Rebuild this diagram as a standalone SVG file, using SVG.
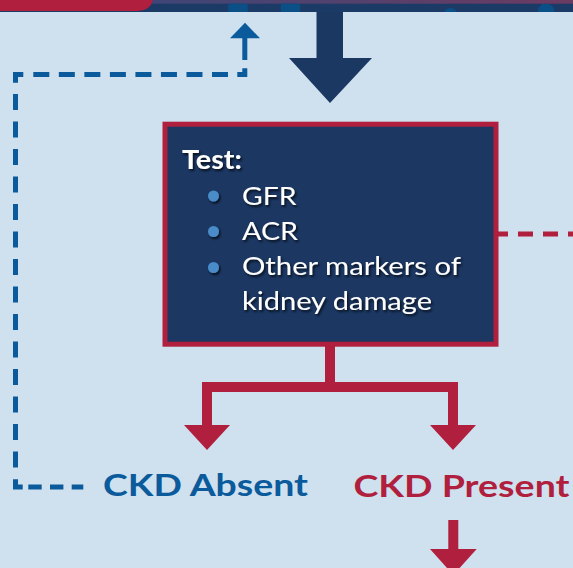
<svg xmlns="http://www.w3.org/2000/svg" width="573" height="568" viewBox="0 0 573 568">
  <style>
    .navy { fill: #1b3862; }
    .red { fill: #b01f3d; }
    .blue { fill: #0b5a9b; }
    .redline { stroke: #b01f3d; fill: none; stroke-width: 10; stroke-linejoin: miter; }
    .dash { stroke: #0b5a9b; fill: none; stroke-width: 5; stroke-linecap: butt; stroke-linejoin: miter; }
    .boxtext { font-family: Lato, "Liberation Sans", sans-serif; fill: #ffffff; filter: url(#shadow); }
    .label { font-family: Lato, "Liberation Sans", sans-serif; font-weight: 700; font-size: 31px; }
  </style>
  <defs>
    <linearGradient id="topGrad" x1="0" y1="0" x2="1" y2="0">
      <stop offset="0" stop-color="#2e4a7e"/>
      <stop offset="1" stop-color="#6c3b62"/>
    </linearGradient>
    <clipPath id="bandClip">
      <rect x="0" y="3.7" width="573" height="8.3"/>
    </clipPath>
    <filter id="shadow" x="-10%" y="-20%" width="130%" height="160%">
      <feDropShadow dx="1.5" dy="2" stdDeviation="1" flood-color="#000000" flood-opacity="0.7"/>
    </filter>
  </defs>

  <!-- page background -->
  <rect x="0" y="0" width="573" height="568" fill="#cfe1ef"/>

  <!-- header band across the top edge -->
  <g id="header">
    <rect x="0" y="0" width="573" height="4" fill="url(#topGrad)"/>
    <rect x="0" y="3.7" width="573" height="8.3" fill="#1b3a65"/>
    <g fill="#0b4f87" clip-path="url(#bandClip)">
      <circle cx="238" cy="8" r="10"/>
      <circle cx="290.5" cy="8" r="10"/>
      <circle cx="450.5" cy="15" r="7"/>
      <circle cx="546" cy="12" r="8.5"/>
    </g>
    <path d="M0 0 H153 V0 Q150 11 138 11 H0 Z" class="red"/>
  </g>

  <g id="connectors">
    <!-- incoming arrow from above -->
    <polygon class="navy" points="316.5,12 343,12 343,58 372,58 330,103 289,58 316.5,58"/>

    <!-- split from the test box into the two outcomes -->
    <path class="redline" d="M330 346 V387"/>
    <path class="redline" d="M207 425 V387 H453 V425"/>
    <polygon class="red" points="184,425 230,425 207,450"/>
    <polygon class="red" points="430,425 476,425 453,450"/>

    <!-- onward arrow below CKD Present -->
    <rect class="red" x="448.3" y="520" width="10" height="30"/>
    <polygon class="red" points="430,549 476.7,549 453.3,575"/>

    <!-- dashed link leaving the box to the right -->
    <line x1="493" y1="234" x2="573" y2="234" stroke="#b01f3d" stroke-width="5" stroke-dasharray="15 10"/>

    <!-- dashed loop back from CKD Absent to the top -->
    <g id="loop-back">
      <line class="dash" x1="28.3" y1="487" x2="83.3" y2="487" stroke-dasharray="13.4 8.3"/>
      <path class="dash" d="M22.7 487 H15.5 V479.3"/>
      <line class="dash" x1="15.5" y1="467.5" x2="15.5" y2="94" stroke-dasharray="16 11.5"/>
      <path class="dash" d="M15.5 82.7 V74.5 H23.3"/>
      <line class="dash" x1="33.3" y1="74.5" x2="228.3" y2="74.5" stroke-dasharray="16 9.53"/>
      <path class="dash" d="M237.3 74.5 H244.8 V68.3"/>
      <line class="dash" x1="244.8" y1="60" x2="244.8" y2="38"/>
      <polygon class="blue" points="230,38.3 260,38.3 245,22.7"/>
    </g>
  </g>

  <g id="test-box">
    <rect x="165" y="124.2" width="331" height="220" fill="#1b3762" stroke="#b01f3d" stroke-width="5"/>
    <text class="boxtext" x="182" y="169" font-size="26" font-weight="700" textLength="60" lengthAdjust="spacingAndGlyphs">Test:</text>
    <g fill="#4a8cc9" filter="url(#shadow)">
      <circle cx="213.5" cy="196" r="5.5"/>
      <circle cx="213.5" cy="231.5" r="5.5"/>
      <circle cx="213.5" cy="267.5" r="5.5"/>
    </g>
    <g class="boxtext" font-size="25">
      <text x="242" y="205" textLength="54.5" lengthAdjust="spacingAndGlyphs">GFR</text>
      <text x="242" y="240" textLength="56" lengthAdjust="spacingAndGlyphs">ACR</text>
      <text x="242" y="275" textLength="219" lengthAdjust="spacingAndGlyphs">Other markers of</text>
      <text x="242" y="310" textLength="190" lengthAdjust="spacingAndGlyphs">kidney damage</text>
    </g>
  </g>

  <g id="ckd-absent">
    <text class="label" x="103" y="496" fill="#0b5a9b" textLength="205" lengthAdjust="spacingAndGlyphs">CKD Absent</text>
  </g>

  <g id="ckd-present">
    <text class="label" x="353.5" y="496.5" fill="#b01f3d" textLength="216" lengthAdjust="spacingAndGlyphs">CKD Present</text>
  </g>
</svg>
